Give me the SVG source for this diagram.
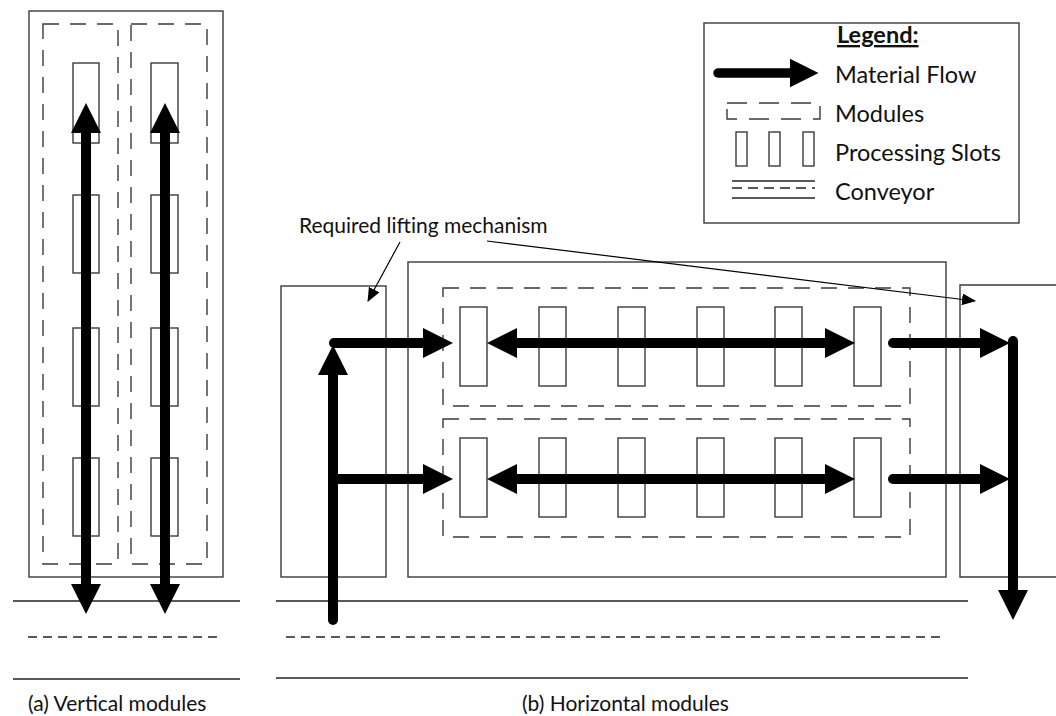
<svg xmlns="http://www.w3.org/2000/svg" width="1056" height="716" viewBox="0 0 1056 716">
<style>
.box{fill:none;stroke:#3a3a3a;stroke-width:1.4}
.slot{fill:#fff;stroke:#3a3a3a;stroke-width:1.4}
.mod{fill:none;stroke:#3a3a3a;stroke-width:1.4;stroke-dasharray:16 11}
.line{stroke:#222;stroke-width:1.4;fill:none}
.dash{stroke:#222;stroke-width:1.4;fill:none;stroke-dasharray:9 6}
.flow{stroke:#000;stroke-width:10;fill:none;stroke-linecap:butt}
.flowr{stroke:#000;stroke-width:10;fill:none;stroke-linecap:round}
.end{marker-end:url(#head)}
.both{marker-start:url(#head);marker-end:url(#head)}
.lead{stroke:#000;stroke-width:1.2;fill:none;marker-end:url(#small)}
text{font-family:Lato,"Liberation Sans",sans-serif;fill:#111;font-size:21px}
.lg{font-size:23.5px}
</style>
<defs>
<marker id="head" markerUnits="strokeWidth" markerWidth="3" markerHeight="3" refX="0" refY="1.5" orient="auto-start-reverse" viewBox="0 0 3 3">
<path d="M0,0 L3,1.5 L0,3 z" fill="#000"/>
</marker>
<marker id="small" markerUnits="userSpaceOnUse" markerWidth="14" markerHeight="12" refX="13" refY="6" orient="auto" viewBox="0 0 14 12">
<path d="M0,0 L14,6 L0,12 z" fill="#000"/>
</marker>
</defs>

<g id="panel-a">
<rect class="box" x="29" y="11" width="194" height="566"/>
<g id="module-a1">
<rect class="mod" x="43" y="24" width="75" height="540"/>
<rect class="slot" x="73" y="63" width="26" height="80"/>
<rect class="slot" x="73" y="195" width="26" height="78"/>
<rect class="slot" x="73" y="328" width="26" height="78"/>
<rect class="slot" x="73" y="458" width="26" height="78"/>
</g>
<g id="module-a2">
<rect class="mod" x="131" y="24" width="76" height="540"/>
<rect class="slot" x="151" y="63" width="27" height="80"/>
<rect class="slot" x="151" y="195" width="27" height="78"/>
<rect class="slot" x="151" y="328" width="27" height="78"/>
<rect class="slot" x="151" y="458" width="27" height="78"/>
</g>
<g id="conveyor-a">
<line class="line" x1="13" y1="601" x2="240" y2="601"/>
<line class="dash" x1="28" y1="637" x2="222" y2="637"/>
<line class="line" x1="13" y1="679" x2="240" y2="679"/>
</g>
<text x="28" y="711">(a) Vertical modules</text>
</g>

<g id="panel-b">
<rect id="lift-left" class="box" x="281" y="286" width="105" height="291"/>
<rect id="frame-b" class="box" x="408" y="262" width="538" height="315"/>
<path id="lift-right" class="box" d="M1058,285 H960 V577 H1058"/>
<g id="module-b1">
<rect class="mod" x="443" y="288" width="467" height="118"/>
<rect class="slot" x="460" y="307" width="27" height="79"/>
<rect class="slot" x="539" y="307" width="27" height="79"/>
<rect class="slot" x="618" y="307" width="27" height="79"/>
<rect class="slot" x="697" y="307" width="27" height="79"/>
<rect class="slot" x="775" y="307" width="27" height="79"/>
<rect class="slot" x="854" y="307" width="27" height="79"/>
</g>
<g id="module-b2">
<rect class="mod" x="443" y="419" width="467" height="118"/>
<rect class="slot" x="460" y="438" width="27" height="79"/>
<rect class="slot" x="539" y="438" width="27" height="79"/>
<rect class="slot" x="618" y="438" width="27" height="79"/>
<rect class="slot" x="697" y="438" width="27" height="79"/>
<rect class="slot" x="775" y="438" width="27" height="79"/>
<rect class="slot" x="854" y="438" width="27" height="79"/>
</g>
<g id="conveyor-b">
<line class="line" x1="276" y1="601" x2="968" y2="601"/>
<line class="dash" x1="286" y1="637" x2="944" y2="637"/>
<line class="line" x1="276" y1="678" x2="968" y2="678"/>
</g>
<text x="522" y="711">(b) Horizontal modules</text>
<text id="note" x="299" y="233">Required lifting mechanism</text>
</g>

<g id="connectors">
<line class="flow both" x1="86" y1="133" x2="86" y2="584"/>
<line class="flow both" x1="165" y1="133" x2="165" y2="584"/>
<line class="flowr end" x1="334" y1="343" x2="423" y2="343"/>
<line class="flowr end" x1="333" y1="620" x2="333" y2="375"/>
<line class="flow end" x1="333" y1="479" x2="423" y2="479"/>
<line class="flow both" x1="517" y1="343" x2="825" y2="343"/>
<line class="flow both" x1="517" y1="479" x2="825" y2="479"/>
<line class="flowr end" x1="893" y1="343" x2="980" y2="343"/>
<line class="flowr end" x1="893" y1="479" x2="980" y2="479"/>
<line class="flowr end" x1="1013" y1="341" x2="1013" y2="590"/>
<line class="lead" x1="400" y1="242" x2="368" y2="301"/>
<line class="lead" x1="487" y1="241" x2="975" y2="301"/>
</g>

<g id="legend">
<rect class="box" x="704" y="23" width="315" height="200"/>
<text class="lg" x="837" y="43" font-weight="bold" text-decoration="underline">Legend:</text>
<line class="flowr end" x1="718" y1="73" x2="790" y2="73" style="stroke-width:9.5"/>
<text class="lg" x="835" y="83">Material Flow</text>
<rect class="mod" x="727" y="103" width="93" height="16" style="stroke-dasharray:20 12"/>
<text class="lg" x="835" y="122">Modules</text>
<rect class="slot" x="736" y="132" width="11" height="34"/>
<rect class="slot" x="769" y="132" width="11" height="34"/>
<rect class="slot" x="803" y="132" width="11" height="34"/>
<text class="lg" x="835" y="161">Processing Slots</text>
<line class="line" x1="732" y1="181" x2="815" y2="181"/>
<line class="dash" x1="732" y1="188" x2="815" y2="188" style="stroke-dasharray:10 6"/>
<line class="line" x1="732" y1="198" x2="815" y2="198"/>
<text class="lg" x="835" y="200">Conveyor</text>
</g>
</svg>
